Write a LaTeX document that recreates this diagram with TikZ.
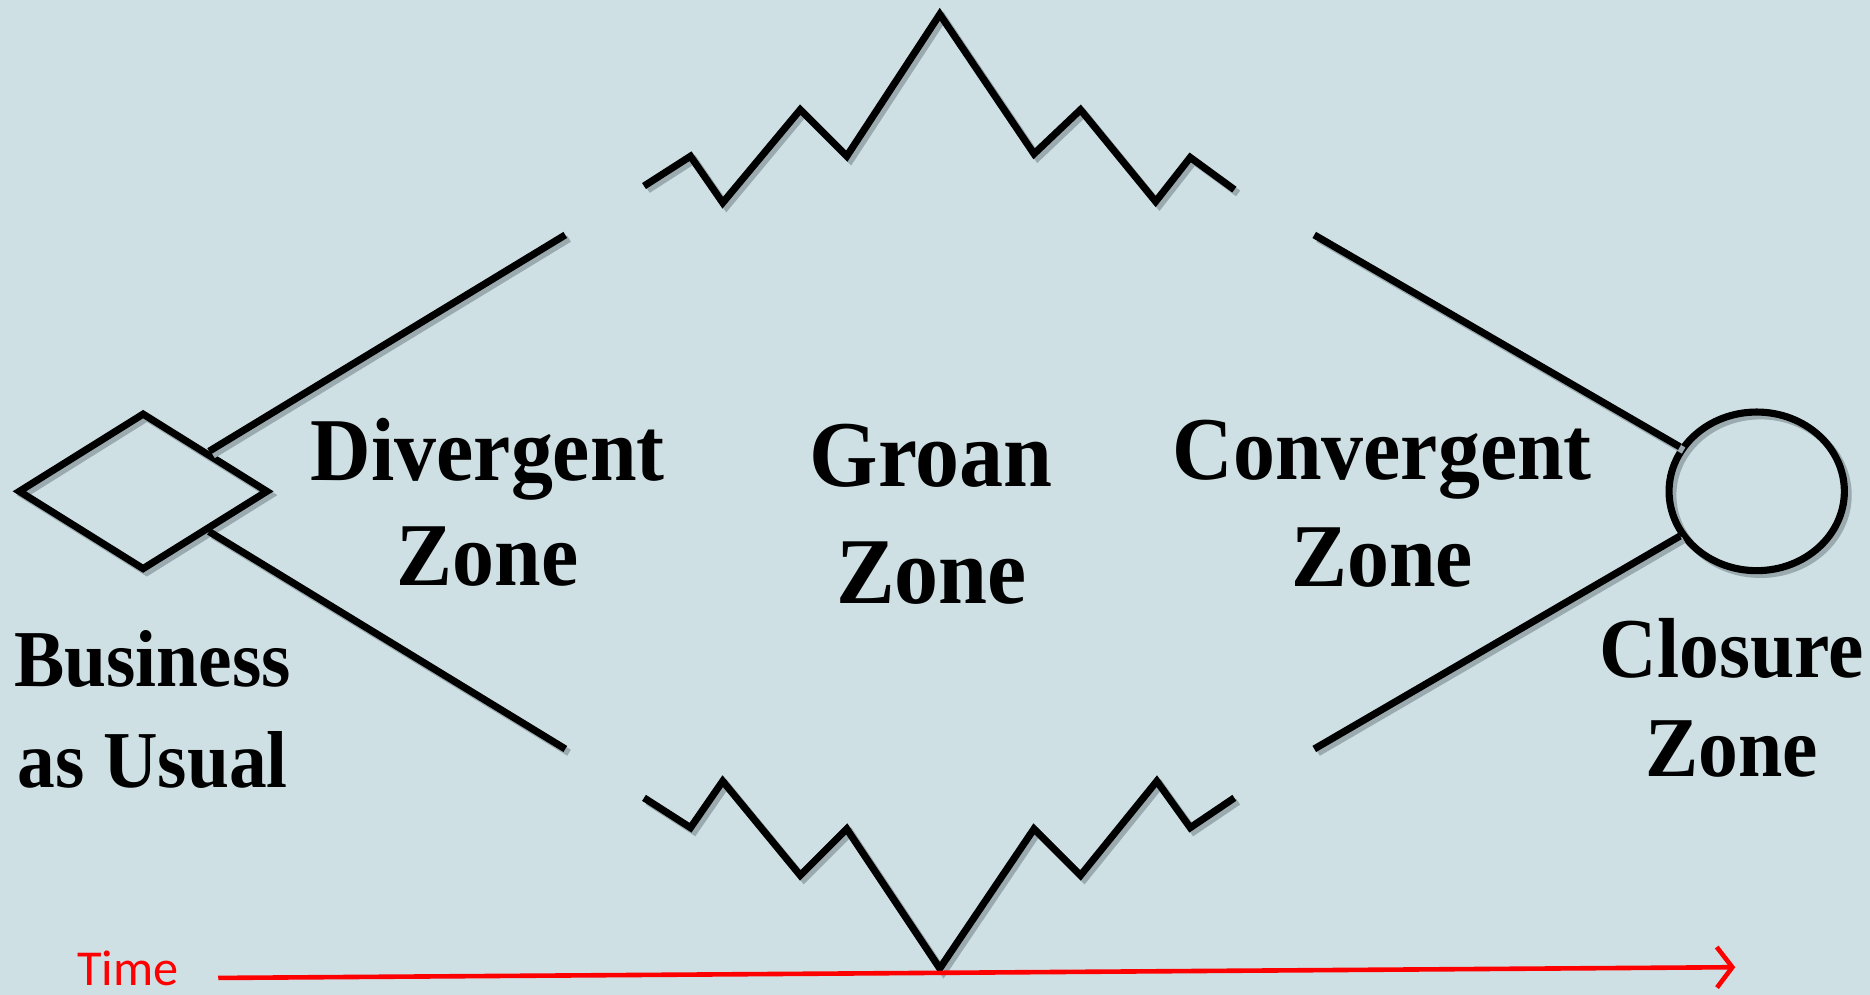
\documentclass[tikz,border=0pt]{standalone}
\usepackage{fontspec}
\setmainfont{Liberation Serif}
\newfontfamily\timefont{Carlito}
\usetikzlibrary{shapes.geometric,arrows.meta}
\definecolor{bgc}{HTML}{CFE0E4}
\definecolor{shd}{HTML}{9AAAAE}
\definecolor{tred}{RGB}{255,0,0}
\tikzset{
  ln/.style={line width=1.7pt, line join=miter, black,
    preaction={draw=shd, line width=1.7pt, transform canvas={shift={(0.9pt,-0.9pt)}}}},
  lbl/.style={font=\bfseries, align=center, anchor=base, inner sep=0pt, text=black, yscale=1.07},
}
\begin{document}
\begin{tikzpicture}
\fill[bgc] (0,0) rectangle (15.68,8.34);
\useasboundingbox (0,0) rectangle (15.68,8.34);

% shapes
\node[ln, draw, diamond, minimum width=2.10cm, minimum height=1.32cm, inner sep=0pt] (bau) at (1.20,4.22) {};
\node[ln, draw, ellipse, minimum width=1.47cm, minimum height=1.33cm, inner sep=0pt] (clo) at (14.73,4.22) {};

\coordinate (dtop) at (4.74,6.37);
\coordinate (dbot) at (4.74,2.06);
\coordinate (ctop) at (11.02,6.37);
\coordinate (cbot) at (11.02,2.06);

\draw[ln] (bau) -- (dtop);
\draw[ln] (bau) -- (dbot);
\draw[ln] (ctop) -- (clo);
\draw[ln] (cbot) -- (clo);

% zigzags
\draw[ln] (5.40,6.78) -- (5.79,7.03) -- (6.06,6.64) -- (6.71,7.42) -- (7.10,7.03) -- (7.88,8.22)
  -- (8.67,7.05) -- (9.06,7.42) -- (9.69,6.65) -- (9.98,7.02) -- (10.35,6.75);
\draw[ln] (5.40,1.65) -- (5.79,1.40) -- (6.06,1.79) -- (6.71,1.00) -- (7.10,1.39) -- (7.88,0.22)
  -- (8.67,1.39) -- (9.06,1.00) -- (9.70,1.79) -- (9.98,1.40) -- (10.35,1.65);

% labels (anchor=base is the baseline of the last line)
\node[lbl, font=\bfseries\fontsize{20}{23.4}\selectfont] (div) at (4.09,3.434) {Divergent\\Zone};
\node[lbl, font=\bfseries\fontsize{21}{26}\selectfont] (gro) at (7.81,3.28) {Groan\\Zone};
\node[lbl, font=\bfseries\fontsize{20}{24}\selectfont] (con) at (11.59,3.42) {Convergent\\Zone};
\node[lbl, font=\bfseries\fontsize{18}{22.4}\selectfont] (bus) at (1.28,1.74) {Business\\as Usual};
\node[lbl, font=\bfseries\fontsize{19}{22.2}\selectfont] (cz) at (14.52,1.825) {Closure\\Zone};

% time axis
\node[anchor=base west, inner sep=0pt, text=tred, font=\timefont\fontsize{12}{14}\selectfont] (time) at (0.64,0.08) {Time};
\coordinate (t0) at (1.83,0.14);
\coordinate (t1) at (14.55,0.23);
\draw[tred, line width=1.1pt, -{Straight Barb[length=1.3mm, width=3.4mm, line width=1.1pt]}] (t0) -- (t1);
\end{tikzpicture}
\end{document}
